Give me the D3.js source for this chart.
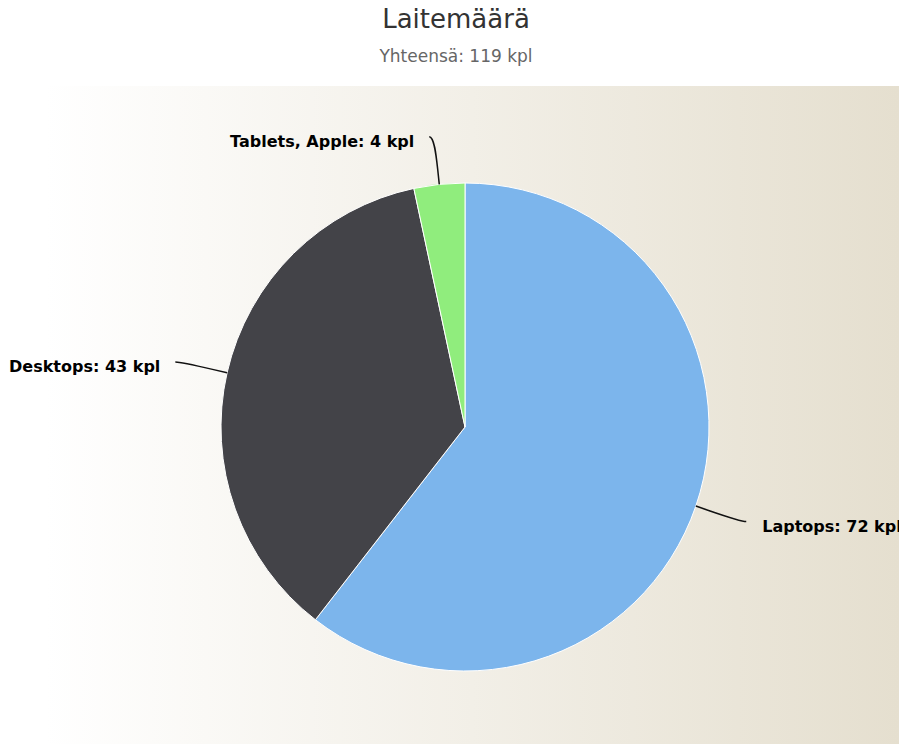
<!DOCTYPE html>
<html>
<head>
<meta charset="utf-8">
<script src="https://cdn.jsdelivr.net/npm/d3@7"></script>
<style>
  html, body { margin: 0; padding: 0; background: #fff; }
  svg { display: block; }
</style>
</head>
<body>
<svg id="chart" width="899" height="744"></svg>
<script>
const categories = ["Laptops", "Desktops", "Tablets, Apple"];
const values = [72, 43, 4];
const colors = ["#7cb5ec", "#434348", "#90ed7d"];
const titleText = "Laitemäärä";
const subtitleText = "Yhteensä: 119 kpl";
const unit = "kpl";

const W = 899, H = 744;
const svg = d3.select("#chart");

// background gradient
const defs = svg.append("defs");
const grad = defs.append("linearGradient").attr("id", "bg")
  .attr("x1", "0%").attr("x2", "100%").attr("y1", "0%").attr("y2", "0%");
grad.append("stop").attr("offset", "0%").attr("stop-color", "#ffffff");
grad.append("stop").attr("offset", "100%").attr("stop-color", "#e5dfcf");
svg.append("rect").attr("x", 45).attr("y", 86).attr("width", W - 45).attr("height", H - 86)
  .attr("fill", "url(#bg)");

// titles
svg.append("text").attr("x", 456).attr("y", 28).attr("text-anchor", "middle")
  .style("font-family", "DejaVu Sans, sans-serif").style("font-size", "26px").attr("fill", "#333")
  .text(titleText);
svg.append("text").attr("x", 456).attr("y", 62).attr("text-anchor", "middle")
  .style("font-family", "DejaVu Sans, sans-serif").style("font-size", "17px").attr("fill", "#666")
  .text(subtitleText);

const cx = 465, cy = 427, r = 244;
const data = categories.map((c, i) => ({ name: c, value: values[i], color: colors[i] }));
const pie = d3.pie().value(d => d.value).sort(null);
const arcs = pie(data);
const arc = d3.arc().innerRadius(0).outerRadius(r);

const g = svg.append("g").attr("transform", `translate(${cx},${cy})`);
g.selectAll("path.slice").data(arcs).join("path")
  .attr("class", "slice")
  .attr("d", arc)
  .attr("fill", d => d.data.color)
  .attr("stroke", "#ffffff")
  .attr("stroke-width", 1)
  .attr("stroke-linejoin", "round");

const pt = (a, rad) => [Math.sin(a) * rad, -Math.cos(a) * rad];

arcs.forEach(d => {
  const a = (d.startAngle + d.endAngle) / 2;
  const E = pt(a, r);
  const B = pt(a, r + 15);
  const L = pt(a, r + 48);
  const right = Math.sin(a) > 0;
  const sx = L[0] + (right ? 5 : -5);
  const path = `M${sx},${L[1]} C${L[0]},${L[1]} ${2*B[0]-E[0]},${2*B[1]-E[1]} ${B[0]},${B[1]} L${E[0]},${E[1]}`;
  g.append("path").attr("d", path).attr("fill", "none").attr("stroke", "#111").attr("stroke-width", 1.5);
  g.append("text")
    .attr("x", L[0] + (right ? 21 : -20))
    .attr("y", L[1] + 10)
    .attr("text-anchor", right ? "start" : "end")
    .style("font-family", "DejaVu Sans, sans-serif").style("font-size", "16px").style("font-weight", "bold")
    .attr("fill", "#000")
    .text(`${d.data.name}: ${d.data.value} ${unit}`);
});
</script>
</body>
</html>
